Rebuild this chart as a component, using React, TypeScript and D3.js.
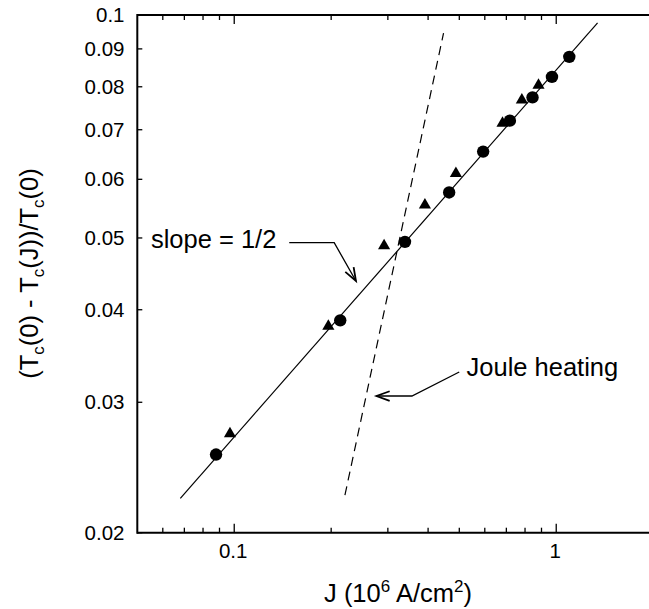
import React from 'react';
import * as d3 from 'd3';

// circles (series 1)
const circleJ = [0.0878, 0.2134, 0.339, 0.465, 0.593, 0.718, 0.844, 0.970, 1.098];
const circleT = [0.0255, 0.0387, 0.0494, 0.0576, 0.0654, 0.0720, 0.0774, 0.0825, 0.0878];

// triangles (series 2)
const triJ = [0.0970, 0.196, 0.292, 0.391, 0.488, 0.681, 0.782, 0.881];
const triT = [0.0272, 0.0380, 0.0488, 0.0554, 0.0611, 0.0714, 0.0768, 0.0804];

// slope = 1/2 line and Joule heating line (end points)
const fitJ = [0.068, 1.344];
const fitT = [0.02225, 0.0976];
const jouleJ = [0.2207, 0.4467];
const jouleT = [0.02248, 0.0945];

const yTicks = [0.02, 0.03, 0.04, 0.05, 0.06, 0.07, 0.08, 0.09, 0.1];
const yTickLabels = ['0.02', '0.03', '0.04', '0.05', '0.06', '0.07', '0.08', '0.09', '0.1'];
const xMajor = [0.1, 1];
const xMajorLabels = ['0.1', '1'];
const xMinor = [0.06, 0.07, 0.08, 0.09, 0.2, 0.3, 0.4, 0.5, 0.6, 0.7, 0.8, 0.9];

// annotations, in data units
const slopeArrowJ = [0.1482, 0.2044, 0.2388];
const slopeArrowT = [0.04927, 0.04927, 0.04374];
const jouleArrowJ = [0.4998, 0.3563, 0.2766];
const jouleArrowT = [0.03296, 0.03059, 0.03059];
const slopeLabel = { j: 0.0551, t: 0.0484, text: 'slope = 1/2' };
const jouleLabel = { j: 0.5265, t: 0.03256, text: 'Joule heating' };

const W = 649, H = 609;
const font = '"Liberation Sans", Arial, Helvetica, sans-serif';

const x = d3.scaleLog().domain([0.05, 2]).range([137.3, 137.3 + 322 * Math.log10(40)]);
const y = d3.scaleLog().domain([0.02, 0.1]).range([532.7, 15]);

function arrowHead (p0, p1, len = 14, ang = 20) {
  // open V at p1, coming from p0
  const a = Math.atan2(p1[1] - p0[1], p1[0] - p0[0]);
  const r = ang * Math.PI / 180;
  const b1 = [p1[0] - len * Math.cos(a - r), p1[1] - len * Math.sin(a - r)];
  const b2 = [p1[0] - len * Math.cos(a + r), p1[1] - len * Math.sin(a + r)];
  return `M${b1[0]},${b1[1]}L${p1[0]},${p1[1]}L${b2[0]},${b2[1]}`;
}

const App = () => {
  const line = d3.line().x((d) => d[0]).y((d) => d[1]);
  const fitPts = fitJ.map((j, i) => [x(j), y(fitT[i])]);
  const joulePts = jouleJ.map((j, i) => [x(j), y(jouleT[i])]);
  const slopePts = slopeArrowJ.map((j, i) => [x(j), y(slopeArrowT[i])]);
  const jArrowPts = jouleArrowJ.map((j, i) => [x(j), y(jouleArrowT[i])]);
  const tri = d3.symbol().type(d3.symbolTriangle).size(64)();

  const [x0, x1] = [x.range()[0], W];
  const [yb, yt] = y.range();

  return (
    <svg width={W} height={H} style={{ position: 'absolute', left: 0, top: 0, background: '#fff' }}
      fontFamily={font}>
      {/* frame */}
      <line x1={x0} x2={x1} y1={yb} y2={yb} stroke="#000" strokeWidth={2} />
      <line x1={x0} x2={x1} y1={yt} y2={yt} stroke="#000" strokeWidth={2} />
      <line x1={x0} x2={x0} y1={yt - 1} y2={yb + 1} stroke="#000" strokeWidth={2} />

      {/* x ticks */}
      {xMajor.map((v) => (
        <g key={'xm' + v}>
          <line x1={x(v)} x2={x(v)} y1={yb} y2={yb - 9} stroke="#000" strokeWidth={1.3} />
          <line x1={x(v)} x2={x(v)} y1={yt} y2={yt + 9} stroke="#000" strokeWidth={1.3} />
        </g>
      ))}
      {xMinor.map((v) => (
        <g key={'xn' + v}>
          <line x1={x(v)} x2={x(v)} y1={yb} y2={yb - 5} stroke="#000" strokeWidth={1.3} />
          <line x1={x(v)} x2={x(v)} y1={yt} y2={yt + 5} stroke="#000" strokeWidth={1.3} />
        </g>
      ))}
      {xMajor.map((v, i) => (
        <text key={'xl' + v} x={x(v) - 1} y={558} textAnchor="middle" fontSize={20.5}>{xMajorLabels[i]}</text>
      ))}

      {/* y ticks */}
      {yTicks.map((v, i) => (
        <g key={'y' + v}>
          <line x1={x0} x2={x0 + 5} y1={y(v)} y2={y(v)} stroke="#000" strokeWidth={1.3} />
          <text x={124.5} y={y(v)} dy="0.35em" textAnchor="end" fontSize={20.5}>{yTickLabels[i]}</text>
        </g>
      ))}

      {/* lines */}
      <path d={line(fitPts)} fill="none" stroke="#000" strokeWidth={1.2} />
      <path d={line(joulePts)} fill="none" stroke="#000" strokeWidth={1.2} strokeDasharray="9,6" />

      {/* points */}
      {triJ.map((j, i) => (
        <path key={'t' + i} d={tri} transform={`translate(${x(j)},${y(triT[i])})`} fill="#000" />
      ))}
      {circleJ.map((j, i) => (
        <circle key={'c' + i} cx={x(j)} cy={y(circleT[i])} r={6.2} fill="#000" />
      ))}

      {/* annotations */}
      <path d={line(slopePts)} fill="none" stroke="#000" strokeWidth={1.3} />
      <path d={arrowHead(slopePts[1], slopePts[2])} fill="none" stroke="#000" strokeWidth={1.8} />
      <path d={line(jArrowPts)} fill="none" stroke="#000" strokeWidth={1.3} />
      <path d={arrowHead(jArrowPts[1], jArrowPts[2])} fill="none" stroke="#000" strokeWidth={1.8} />
      <text x={x(slopeLabel.j)} y={y(slopeLabel.t)} fontSize={25.5}>{slopeLabel.text}</text>
      <text x={x(jouleLabel.j)} y={y(jouleLabel.t)} fontSize={25.5}>{jouleLabel.text}</text>

      {/* axis titles */}
      <text x={398} y={602} textAnchor="middle" fontSize={25.5}>
        J (10<tspan dy={-10} fontSize={17}>6</tspan><tspan dy={10}> A/cm</tspan>
        <tspan dy={-10} fontSize={17}>2</tspan><tspan dy={10}>)</tspan>
      </text>
      <text transform="translate(38,273.5) rotate(-90)" textAnchor="middle" fontSize={25.5}>
        (T<tspan dy={6} fontSize={17}>c</tspan><tspan dy={-6}>(0) - T</tspan>
        <tspan dy={6} fontSize={17}>c</tspan><tspan dy={-6}>(J))/T</tspan>
        <tspan dy={6} fontSize={17}>c</tspan><tspan dy={-6}>(0)</tspan>
      </text>
    </svg>
  );
};

export default App;
